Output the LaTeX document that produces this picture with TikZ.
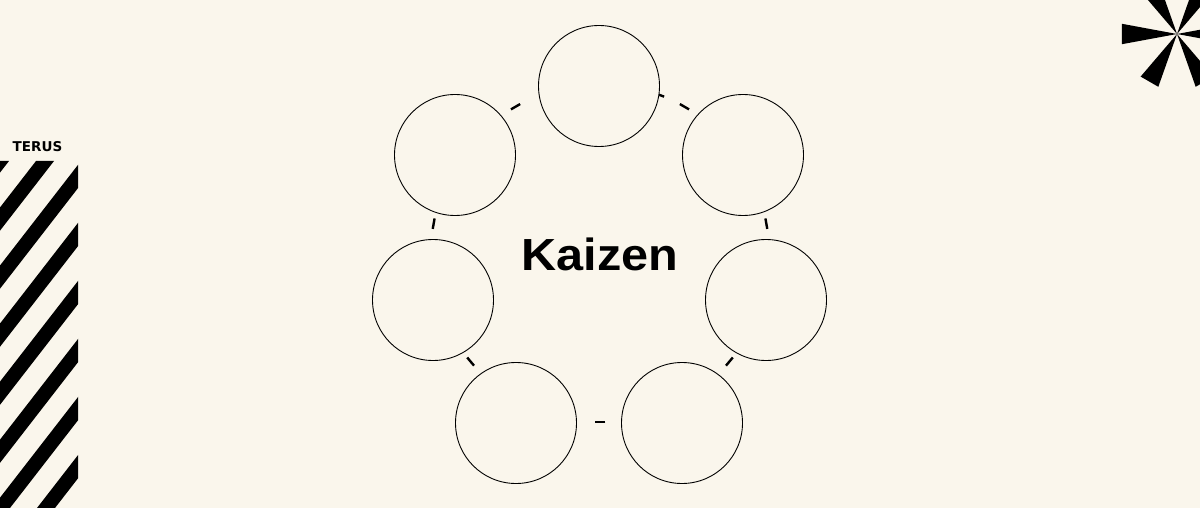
\documentclass[tikz,border=0pt]{standalone}
\usepackage{fontspec}
\setmainfont{Liberation Sans}
\newfontfamily\kaizenfont[FakeStretch=1.08]{Liberation Sans}
\newfontfamily\terusfont{DejaVu Sans}
\usetikzlibrary{calc}
\definecolor{paper}{HTML}{FAF6EC}
\begin{document}
\begin{tikzpicture}[x=1pt, y=-1pt, main/.style = {draw, circle, fill=paper, line width=0.9pt, minimum size=121pt, inner sep=0pt}, gap/.style = {line width=2.4pt}]
    \fill[paper] (0,0) rectangle (1200,508);
    \useasboundingbox (0,0) rectangle (1200,508);

    % ring pieces between the circles
    \coordinate (ring) at (600,253);
    \foreach \a in {10,60,69.5,120,170,220,270,320}
        \draw[gap] ($(ring)+(-\a-1.8:169)$) -- ($(ring)+(-\a+1.8:169)$);

    \node[main] (1) at (599,86)  {};
    \node[main] (2) at (743,155) {};
    \node[main] (3) at (766,300) {};
    \node[main] (4) at (682,423) {};
    \node[main] (5) at (516,423) {};
    \node[main] (6) at (433,300) {};
    \node[main] (7) at (455,155) {};
    \node[anchor=base, font=\kaizenfont\bfseries\fontsize{45}{54}\selectfont] (kaizen) at (600,270) {Kaizen};

    % striped bar
    \node[anchor=base, font=\terusfont\bfseries\fontsize{13.5}{16}\selectfont] (terus) at (37.5,152) {TERUS};
    \begin{scope}
        \clip (0,161) rectangle (78,508);
        \foreach \k in {-1,...,7}
            \fill ({36+45*\k},161) -- ({54+45*\k},161) -- ({54+45*\k-269},508) -- ({36+45*\k-269},508) -- cycle;
    \end{scope}

    % asterisk
    \coordinate (star) at (1177,34);
    \foreach \a in {0,60,...,300}
        \fill (star) -- ($(star)+(\a-10.5:56)$) -- ($(star)+(\a+10.5:56)$) -- cycle;
\end{tikzpicture}
\end{document}
